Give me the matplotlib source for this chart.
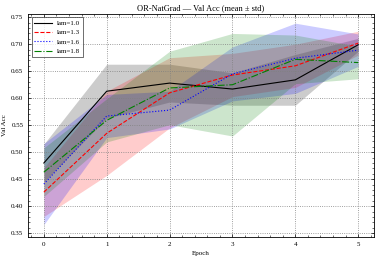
import numpy as np
import matplotlib
matplotlib.use("Agg")
import matplotlib.pyplot as plt

epochs = [0, 1, 2, 3, 4, 5]
labels = ["lam=1.0", "lam=1.3", "lam=1.6", "lam=1.8"]

mean_10 = [0.480, 0.613, 0.628, 0.617, 0.634, 0.699]
mean_13 = [0.426, 0.535, 0.610, 0.643, 0.660, 0.702]
mean_16 = [0.441, 0.567, 0.578, 0.645, 0.674, 0.689]
mean_18 = [0.463, 0.559, 0.619, 0.625, 0.672, 0.666]

std_10 = [0.035, 0.050, 0.035, 0.030, 0.047, 0.012]
std_13 = [0.045, 0.078, 0.065, 0.040, 0.040, 0.022]
std_16 = [0.075, 0.040, 0.035, 0.050, 0.065, 0.030]
std_18 = [0.045, 0.040, 0.068, 0.095, 0.045, 0.030]

plt.rcParams["font.family"] = ["Liberation Serif", "DejaVu Serif"]
plt.rcParams["xtick.direction"] = "in"
plt.rcParams["ytick.direction"] = "in"
plt.rcParams["xtick.top"] = True
plt.rcParams["ytick.right"] = True
plt.rcParams["xtick.minor.visible"] = True
plt.rcParams["ytick.minor.visible"] = True

fig = plt.figure(figsize=(3.8, 2.59), dpi=100)
ax = fig.add_axes([0.074, 0.085, 0.91, 0.861])

means = [mean_10, mean_13, mean_16, mean_18]
stds = [std_10, std_13, std_16, std_18]
colors = ["k", "r", "b", "g"]
styles = ["-", "--", ":", "-."]

x = np.array(epochs)
for m, s, c, ls, lab in zip(means, stds, colors, styles, labels):
    m = np.array(m)
    s = np.array(s)
    ax.plot(x, m, color=c, linestyle=ls, linewidth=0.8, label=lab)
    ax.fill_between(x, m - s, m + s, color=c, alpha=0.2, linewidth=0)

ax.set_xlim(-0.25, 5.25)
ax.set_ylim(0.343, 0.756)
ax.set_yticks(np.arange(0.35, 0.76, 0.05))
ax.set_xticks(epochs)
ax.tick_params(labelsize=5, length=2.5, width=0.5)
ax.tick_params(which="minor", length=1.5, width=0.4)
for sp in ax.spines.values():
    sp.set_linewidth(0.6)
ax.grid(True, linestyle=":", color="gray", linewidth=0.6)
ax.set_title("OR-NatGrad — Val Acc (mean ± std)", fontsize=6, pad=3)
ax.set_xlabel("Epoch", fontsize=5, labelpad=3)
ax.set_ylabel("Val Acc", fontsize=5, labelpad=3)
leg = ax.legend(loc="upper left", fontsize=5, frameon=True, fancybox=False,
                edgecolor="black", handlelength=2.5)
leg.get_frame().set_linewidth(0.5)

fig.savefig("out.png", dpi=100)
